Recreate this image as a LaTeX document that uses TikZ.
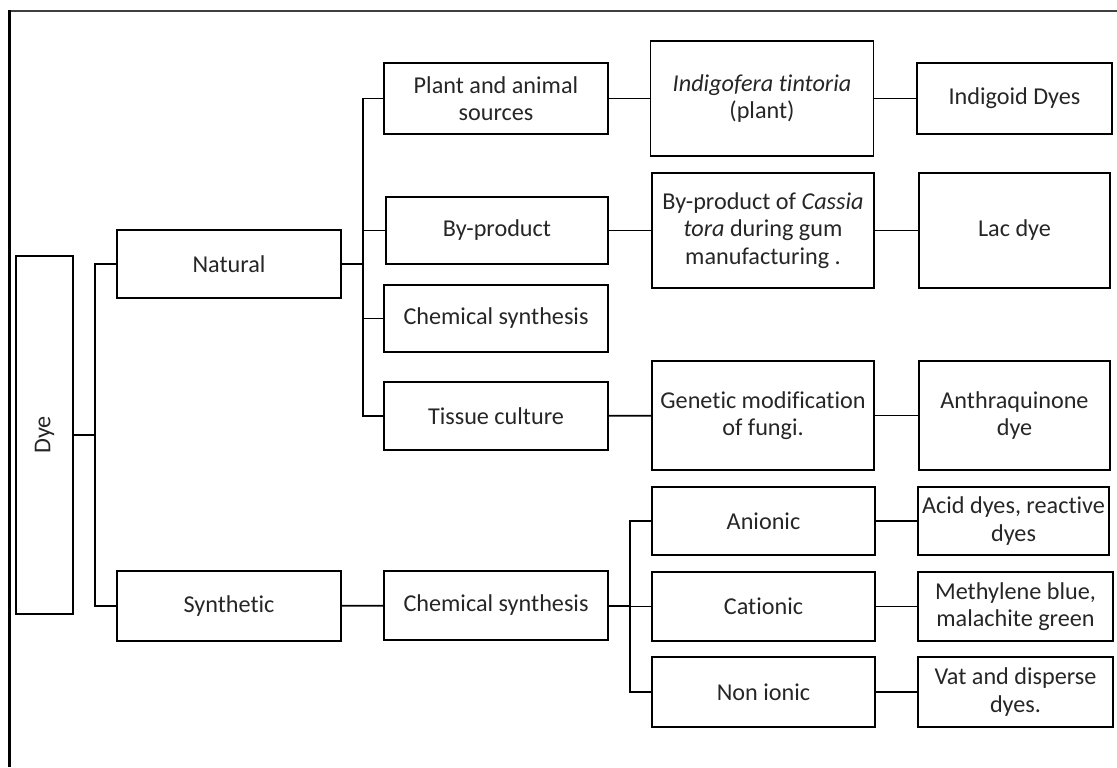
\documentclass[tikz,border=0pt]{standalone}
\usepackage{fontspec}
\setmainfont{Carlito}[Ligatures=NoCommon]
\begin{document}
\begin{tikzpicture}[x=0.5pt,y=-0.5pt,
  box/.style={draw, rectangle, align=center, line width=0.9pt, inner sep=1pt,
    font=\fontsize{12.1}{13.6}\selectfont, text=black!85},
  link/.style={line width=0.9pt}]
\useasboundingbox (0,0) rectangle (1117,767);
\draw[line width=1pt, black!75] (9,10.5) -- (1117,10.5);
\draw[line width=1.5pt] (9.5,10) -- (9.5,767);

\node[box, minimum width=28.5pt, minimum height=179pt] (dye) at (44.5,435)
{\rotatebox{90}{Dye}};

\node[box, minimum width=112pt, minimum height=34pt] (natural) at (229,264) {Natural};
\node[box, minimum width=112pt, minimum height=35pt] (synthetic) at (229,606) {Synthetic};

\node[box, minimum width=112pt, minimum height=35.5pt] (plant) at (496,98.5)
{Plant and animal\\sources};
\node[box, minimum width=111pt, minimum height=33.5pt] (byprod) at (497,230.5) {By-product};
\node[box, minimum width=112pt, minimum height=33.5pt] (chemnat) at (496,318.5) {Chemical synthesis};
\node[box, minimum width=112pt, minimum height=34pt] (tissue) at (496,416) {Tissue culture};
\node[box, minimum width=112pt, minimum height=34.5pt] (chemsyn) at (496,605.5) {Chemical synthesis};

\node[box, minimum width=111.5pt, minimum height=57.5pt] (indigofera) at (762,98.5)
{\textit{Indigofera tintoria}\\(plant)};
\node[box, minimum width=111pt, minimum height=57.5pt] (cassia) at (763,230.5)
{By-product of \textit{Cassia}\\\textit{tora} during gum\\manufacturing .};
\node[box, minimum width=111pt, minimum height=54.5pt] (genetic) at (763,415.5)
{Genetic modification\\of fungi.};
\node[box, minimum width=111.5pt, minimum height=34pt] (anionic) at (763.5,521) {Anionic};
\node[box, minimum width=111.5pt, minimum height=34.5pt] (cationic) at (763.5,606.5) {Cationic};
\node[box, minimum width=111.5pt, minimum height=35pt] (nonionic) at (763.5,692) {Non ionic};

\node[box, minimum width=97.5pt, minimum height=35.5pt] (indigoid) at (1014.5,98.5) {Indigoid Dyes};
\node[box, minimum width=95.5pt, minimum height=57.5pt] (lac) at (1014.5,230.5) {Lac dye};
\node[box, minimum width=95.5pt, minimum height=54.5pt] (anthra) at (1014.5,415.5)
{Anthraquinone\\dye};
\node[box, minimum width=95.5pt, minimum height=34pt, inner sep=0pt] (acid) at (1013.5,521)
{Acid dyes, reactive\\dyes};
\node[box, minimum width=97.5pt, minimum height=34.5pt] (methylene) at (1015.5,606.5)
{Methylene blue,\\malachite green};
\node[box, minimum width=97.5pt, minimum height=35pt] (vat) at (1015.5,692)
{Vat and disperse\\dyes.};

% junction points
\coordinate (jdye) at (95,435);
\coordinate (jnat) at (363,264);
\coordinate (jsyn) at (630,606);

\draw[link] (dye) -- (jdye);
\draw[link] (natural.west) -- (natural.west -| jdye) -- (synthetic.west -| jdye) -- (synthetic.west);

\draw[link] (natural) -- (jnat);
\draw[link] (plant.west) -- (plant.west -| jnat) -- (tissue.west -| jnat) -- (tissue.west);
\draw[link] (byprod.west -| jnat) -- (byprod.west);
\draw[link] (chemnat.west -| jnat) -- (chemnat.west);

\draw[link] (synthetic) -- (chemsyn);
\draw[link] (chemsyn) -- (jsyn);
\draw[link] (anionic.west) -- (anionic.west -| jsyn) -- (nonionic.west -| jsyn) -- (nonionic.west);
\draw[link] (cationic.west -| jsyn) -- (cationic.west);

\draw[link] (plant) -- (indigofera);
\draw[link] (indigofera) -- (indigoid);
\draw[link] (byprod) -- (cassia);
\draw[link] (cassia) -- (lac);
\draw[link] (tissue) -- (genetic);
\draw[link] (genetic) -- (anthra);
\draw[link] (anionic) -- (acid);
\draw[link] (cationic) -- (methylene);
\draw[link] (nonionic) -- (vat);
\end{tikzpicture}
\end{document}
